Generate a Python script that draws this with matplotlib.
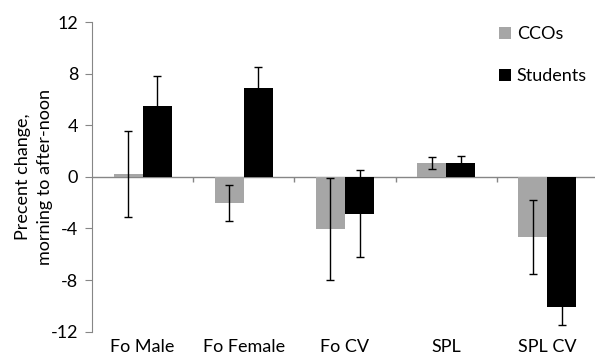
import matplotlib
matplotlib.use("Agg")
import matplotlib.pyplot as plt
import numpy as np

categories = ["Fo Male", "Fo Female", "Fo CV", "SPL", "SPL CV"]
cco_values = [0.2, -2.03, -4.05, 1.06, -4.67]
cco_errors = [3.35, 1.43, 3.97, 0.44, 2.86]
student_values = [5.5, 6.86, -2.86, 1.11, -10.06]
student_errors = [2.35, 1.68, 3.38, 0.52, 1.45]
yticks = [-12, -8, -4, 0, 4, 8, 12]
series_names = ["CCOs", "Students"]

plt.rcParams['font.family'] = ['Lato', 'DejaVu Sans']
FS = 13

fig = plt.figure(figsize=(5.95, 3.58), dpi=100)
ax = fig.add_axes([0.1546, 0.0735, 0.8504, 0.865])

x = np.arange(len(categories))
w = 0.287
ekw = dict(ecolor='black', elinewidth=1, capsize=2.8, capthick=1)
ax.bar(x - w/2, cco_values, w, yerr=cco_errors, color='#A6A6A6', error_kw=ekw, label=series_names[0], zorder=2)
ax.bar(x + w/2, student_values, w, yerr=student_errors, color='black', error_kw=ekw, label=series_names[1], zorder=2)

ax.set_xlim(-0.5, len(categories) - 0.5)
ax.set_ylim(-12, 12)
ax.set_yticks(yticks)
ax.set_yticklabels([str(v) for v in yticks], fontsize=FS)
ax.set_xticks(x)
ax.set_xticklabels(categories, fontsize=FS)
ax.tick_params(axis='x', length=0, pad=5.5)
ax.tick_params(axis='y', length=5, color='#868686', pad=5, direction='out')

for s in ['top', 'right', 'bottom']:
    ax.spines[s].set_visible(False)
ax.spines['left'].set_color('#868686')
ax.axhline(0, color='#868686', lw=1, zorder=1)
ax.vlines(x[:-1] + 0.5, -0.4, 0, color='#868686', lw=1, zorder=1)

ax.set_ylabel("Precent change,\nmorning to after-noon", fontsize=FS, linespacing=1.45)
ax.yaxis.set_label_coords(-0.078, 0.5)

leg = ax.legend(loc='upper left', bbox_to_anchor=(0.772, 1.04), frameon=False, fontsize=FS,
                handlelength=0.65, handleheight=0.65, handletextpad=0.35, labelspacing=1.45)

fig.savefig("out.png", dpi=100)
